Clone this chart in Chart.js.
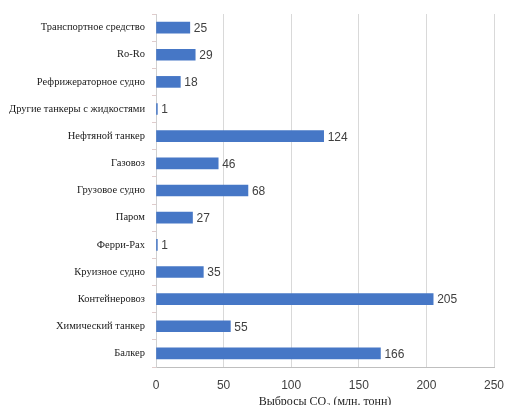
<!DOCTYPE html>
<html>
<head>
<meta charset="utf-8">
<script src="https://cdn.jsdelivr.net/npm/chart.js@4"></script>
<style>
    html, body { margin: 0; padding: 0; background: #ffffff; }
    canvas { display: block; }
</style>
</head>
<body>
<canvas id="emissionsChart" width="505" height="405"></canvas>
<script>
var shipTypes = [
    'Транспортное средство',
    'Ro-Ro',
    'Рефрижераторное судно',
    'Другие танкеры с жидкостями',
    'Нефтяной танкер',
    'Газовоз',
    'Грузовое судно',
    'Паром',
    'Ферри-Pax',
    'Круизное судно',
    'Контейнеровоз',
    'Химический танкер',
    'Балкер'
];
var co2Emissions = [25, 29, 18, 1, 124, 46, 68, 27, 1, 35, 205, 55, 166];
var xTicks = [0, 50, 100, 150, 200, 250];

// value printed just past the end of each bar
var barValueLabels = {
    id: 'barValueLabels',
    afterDatasetsDraw: function (chart) {
        var ctx = chart.ctx;
        var meta = chart.getDatasetMeta(0);
        ctx.save();
        ctx.font = '12px "Liberation Sans", Arial, sans-serif';
        ctx.fillStyle = '#404040';
        ctx.textAlign = 'left';
        ctx.textBaseline = 'middle';
        meta.data.forEach(function (bar, i) {
            ctx.fillText(String(co2Emissions[i]), bar.x + 4, bar.y + 1);
        });
        ctx.restore();
    }
};

function renderChart() {
    var ctx = document.getElementById('emissionsChart').getContext('2d');
    new Chart(ctx, {
        type: 'bar',
        data: {
            labels: shipTypes,
            datasets: [{
                data: co2Emissions,
                backgroundColor: '#4677c6',
                barThickness: 11
            }]
        },
        options: {
            indexAxis: 'y',
            responsive: false,
            animation: false,
            layout: {padding: {top: 14, right: 0, left: 0, bottom: 0}},
            plugins: {
                legend: {display: false},
                tooltip: {enabled: false}
            },
            scales: {
                x: {
                    min: 0,
                    max: 250,
                    afterBuildTicks: function (scale) {
                        scale.ticks = xTicks.map(function (v) { return {value: v}; });
                    },
                    afterFit: function (scale) {
                        scale.height = 38;
                        scale.paddingLeft = 0;
                        scale.paddingRight = 11;
                    },
                    grid: {color: '#d9d9d9', drawTicks: false},
                    border: {color: '#bfbfbf'},
                    ticks: {
                        padding: 11,
                        color: '#404040',
                        font: {family: '"Liberation Sans", Arial, sans-serif', size: 12}
                    },
                    title: {
                        display: true,
                        text: 'Выбросы CO₂ (млн. тонн)',
                        color: '#222222',
                        padding: {top: 0, bottom: -4},
                        font: {family: '"Liberation Serif", "Times New Roman", serif', size: 12}
                    }
                },
                y: {
                    afterFit: function (scale) { scale.width = 156; },
                    grid: {drawOnChartArea: false, tickLength: 4, color: '#e0cccc', offset: true},
                    border: {color: '#d0d0d0'},
                    ticks: {
                        padding: 7,
                        color: '#1a1a1a',
                        font: {family: '"Liberation Serif", "Times New Roman", serif', size: 10.5}
                    }
                }
            }
        },
        plugins: [barValueLabels]
    });
}

renderChart();
</script>
</body>
</html>
